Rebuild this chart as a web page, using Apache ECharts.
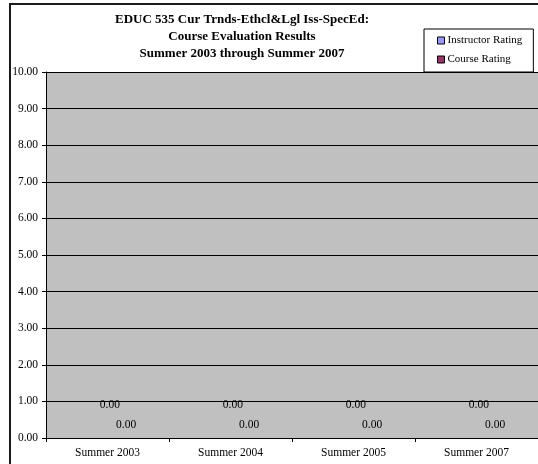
<!DOCTYPE html>
<html>
<head>
<meta charset="utf-8">
<script src="https://cdn.jsdelivr.net/npm/echarts@6/dist/echarts.min.js"></script>
<style>
  html, body { margin: 0; padding: 0; background: #ffffff; }
  #chart { width: 538px; height: 464px; }
</style>
</head>
<body>
<div id="chart"></div>
<script>
// Course evaluation ratings by term
const titleLines = [
  'EDUC 535 Cur Trnds-Ethcl&Lgl Iss-SpecEd:',
  'Course Evaluation Results',
  'Summer 2003 through Summer 2007'
];
const categories = ['Summer 2003', 'Summer 2004', 'Summer 2005', 'Summer 2007'];
const instructorRating = [0.00, 0.00, 0.00, 0.00];
const courseRating = [0.00, 0.00, 0.00, 0.00];
const seriesNames = ['Instructor Rating', 'Course Rating'];
const yMin = 0, yMax = 10, yStep = 1;

const FONT = '"Liberation Serif", "Times New Roman", serif';

const chart = echarts.init(document.getElementById('chart'), null, { renderer: 'canvas' });

chart.setOption({
  animation: false,
  backgroundColor: '#ffffff',
  title: {
    text: titleLines.join('\n'),
    left: 237,
    top: 6,
    textAlign: 'center',
    textStyle: {
      fontFamily: FONT,
      fontWeight: 'bold',
      fontSize: 13,
      lineHeight: 17,
      color: '#000000'
    }
  },
  legend: {
    data: seriesNames,
    orient: 'vertical',
    left: 424,
    top: 29,
    padding: [5, 11, 6, 13],
    itemGap: 6,
    itemWidth: 7,
    itemHeight: 7,
    icon: 'rect',
    backgroundColor: '#ffffff',
    borderColor: '#000000',
    borderWidth: 1,
    borderRadius: 0,
    itemStyle: { borderColor: '#000000', borderWidth: 1 },
    textStyle: {
      fontFamily: FONT,
      fontSize: 11,
      lineHeight: 13,
      color: '#000000',
      padding: [0, 0, 0, -2]
    }
  },
  grid: {
    left: 46,
    top: 72,
    width: 496,
    height: 366,
    show: true,
    backgroundColor: '#c0c0c0',
    borderWidth: 0,
    containLabel: false
  },
  xAxis: {
    type: 'category',
    data: categories,
    axisLine: { show: true, lineStyle: { color: '#000000', width: 1 } },
    axisTick: { show: true, length: 4, lineStyle: { color: '#000000' } },
    axisLabel: {
      fontFamily: FONT,
      fontSize: 11.5,
      color: '#000000',
      margin: 9
    },
    splitLine: { show: false }
  },
  yAxis: {
    type: 'value',
    min: yMin,
    max: yMax,
    interval: yStep,
    axisLine: { show: true, lineStyle: { color: '#000000', width: 1 } },
    axisTick: { show: true, length: 4, lineStyle: { color: '#000000' } },
    axisLabel: {
      fontFamily: FONT,
      fontSize: 11.5,
      color: '#000000',
      margin: 8,
      formatter: v => v.toFixed(2)
    },
    splitLine: { show: true, lineStyle: { color: '#000000', width: 1 } }
  },
  series: [
    {
      name: seriesNames[0],
      type: 'bar',
      data: instructorRating,
      barGap: '0%',
      barCategoryGap: '42.86%',
      itemStyle: { color: '#9999ff', borderWidth: 0 },
      label: {
        show: true,
        position: 'top',
        offset: [20, -22],
        formatter: p => p.value.toFixed(2),
        fontFamily: FONT,
        fontSize: 11.5,
        color: '#000000'
      }
    },
    {
      name: seriesNames[1],
      type: 'bar',
      data: courseRating,
      barGap: '0%',
      barCategoryGap: '42.86%',
      itemStyle: { color: '#993366', borderWidth: 0 },
      label: {
        show: true,
        position: 'top',
        offset: [1, -2],
        formatter: p => p.value.toFixed(2),
        fontFamily: FONT,
        fontSize: 11.5,
        color: '#000000'
      }
    }
  ],
  graphic: [
    {
      type: 'rect',
      silent: true,
      z: 100,
      shape: { x: 10, y: 4, width: 560, height: 500 },
      style: { fill: 'none', stroke: '#1a1a1a', lineWidth: 2 }
    }
  ]
});
</script>
</body>
</html>
